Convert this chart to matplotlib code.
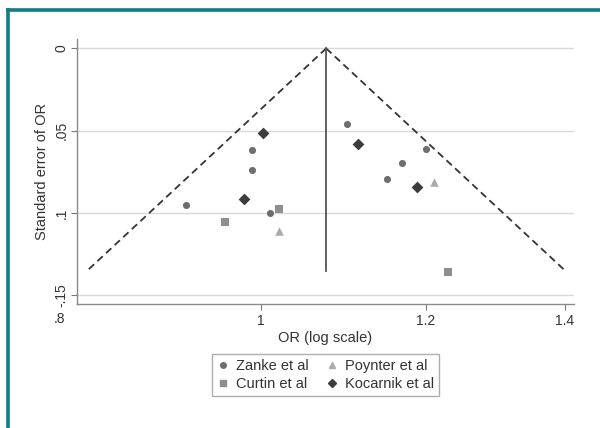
import numpy as np
import matplotlib
matplotlib.use("Agg")
import matplotlib.pyplot as plt
from matplotlib.lines import Line2D
import matplotlib.transforms as mtransforms

plt.rcParams['font.family'] = ['Liberation Sans', 'DejaVu Sans']

# Study estimates (OR, standard error)
zanke_or = [0.920, 0.990, 0.990, 1.010, 1.100, 1.150, 1.169, 1.200]
zanke_se = [0.0952, 0.0614, 0.0740, 0.1002, 0.0461, 0.0790, 0.0695, 0.0612]
curtin_or = [0.9605, 1.020, 1.230]
curtin_se = [0.1057, 0.0974, 0.1356]
poynter_or = [1.020, 1.2106]
poynter_se = [0.1107, 0.0814]
kocarnik_or = [1.002, 0.981, 1.1127, 1.1887]
kocarnik_se = [0.0513, 0.0915, 0.0582, 0.0839]

# Pooled estimate and funnel depth
pooled_or = 1.0747
se_max = 0.1354

x_ticks = [1, 1.2, 1.4]
x_tick_labels = ['1', '1.2', '1.4']
y_ticks = [0, 0.05, 0.1, 0.15]
y_tick_labels = ['0', '.05', '.1', '-.15']

fig = plt.figure(figsize=(6, 4.28), dpi=100)
ax = fig.add_axes([0.1283, 0.289, 0.8284, 0.619])

# Grid lines
for yt in y_ticks:
    ax.axhline(yt, color='#d9d9d9', lw=1.0, zorder=0)

# Funnel (pseudo 95% limits)
se_line = np.array([0, se_max])
theta = np.log(pooled_or)
ax.plot(np.exp(theta - 1.96 * se_line), se_line, color='#333333', lw=1.3,
        ls=(0, (4, 2.5)), zorder=2)
ax.plot(np.exp(theta + 1.96 * se_line), se_line, color='#333333', lw=1.3,
        ls=(0, (4, 2.5)), zorder=2)
ax.plot([pooled_or, pooled_or], se_line, color='#555555', lw=1.3, zorder=2)

# Study markers
ax.scatter(zanke_or, zanke_se, marker='o', s=26, color='#6e6e6e', lw=0, zorder=3)
ax.scatter(curtin_or, curtin_se, marker='s', s=34, color='#8e8e8e', lw=0, zorder=3)
ax.scatter(poynter_or, poynter_se, marker='^', s=38, color='#ababab', lw=0, zorder=3)
ax.scatter(kocarnik_or, kocarnik_se, marker='D', s=36, color='#3c3c3c', lw=0, zorder=3)

ax.set_xscale('log')
ax.set_xlim(0.8156, 1.414)
ax.set_ylim(0.1554, -0.0055)

ax.set_xticks(x_ticks)
ax.set_xticklabels(x_tick_labels)
ax.xaxis.set_minor_locator(matplotlib.ticker.NullLocator())
ax.set_yticks(y_ticks)
ax.set_yticklabels(y_tick_labels, rotation=90, va='center')

# ".8" label sits left of the axis in the original
trans = mtransforms.blended_transform_factory(ax.transData, ax.transAxes)
ax.text(0.8, -0.028, '.8', transform=trans, ha='center', va='top',
        fontsize=10, color='#333333', clip_on=False)

ax.tick_params(axis='both', labelsize=10, colors='#777777', labelcolor='#333333',
               length=4, width=0.8)
ax.tick_params(axis='x', pad=3)
ax.tick_params(axis='y', pad=2)

for side in ['top', 'right']:
    ax.spines[side].set_visible(False)
for side in ['left', 'bottom']:
    ax.spines[side].set_color('#8a8a8a')
    ax.spines[side].set_linewidth(1.0)

ax.set_xlabel('OR (log scale)', fontsize=10.5, color='#333333', labelpad=2)
ax.set_ylabel('Standard error of OR', fontsize=10.5, color='#333333', labelpad=4)

handles = [
    Line2D([], [], marker='o', ls='', color='#6e6e6e', markersize=4),
    Line2D([], [], marker='s', ls='', color='#8e8e8e', markersize=4.5),
    Line2D([], [], marker='^', ls='', color='#ababab', markersize=5),
    Line2D([], [], marker='D', ls='', color='#3c3c3c', markersize=4.5),
]
labels = ['Zanke et al', 'Curtin et al', 'Poynter et al', 'Kocarnik et al']
leg = fig.legend(handles, labels, ncol=2, loc='center', bbox_to_anchor=(0.5425, 0.124),
                 fontsize=10.5, frameon=True, fancybox=False, handlelength=0.8,
                 handletextpad=0.5, columnspacing=1.2, labelspacing=0.3,
                 borderpad=0.35)
leg.get_frame().set_edgecolor('#999999')
leg.get_frame().set_linewidth(1.0)
for t in leg.get_texts():
    t.set_color('#333333')

# Teal frame on top and left
fig.add_artist(Line2D([0.0125, 1.0], [1 - 10 / 428, 1 - 10 / 428], color='#127b87',
                      lw=2.6, transform=fig.transFigure))
fig.add_artist(Line2D([7.5 / 600, 7.5 / 600], [0.0, 1 - 10 / 428], color='#127b87',
                      lw=2.6, transform=fig.transFigure))

fig.savefig('out.png', dpi=100)
